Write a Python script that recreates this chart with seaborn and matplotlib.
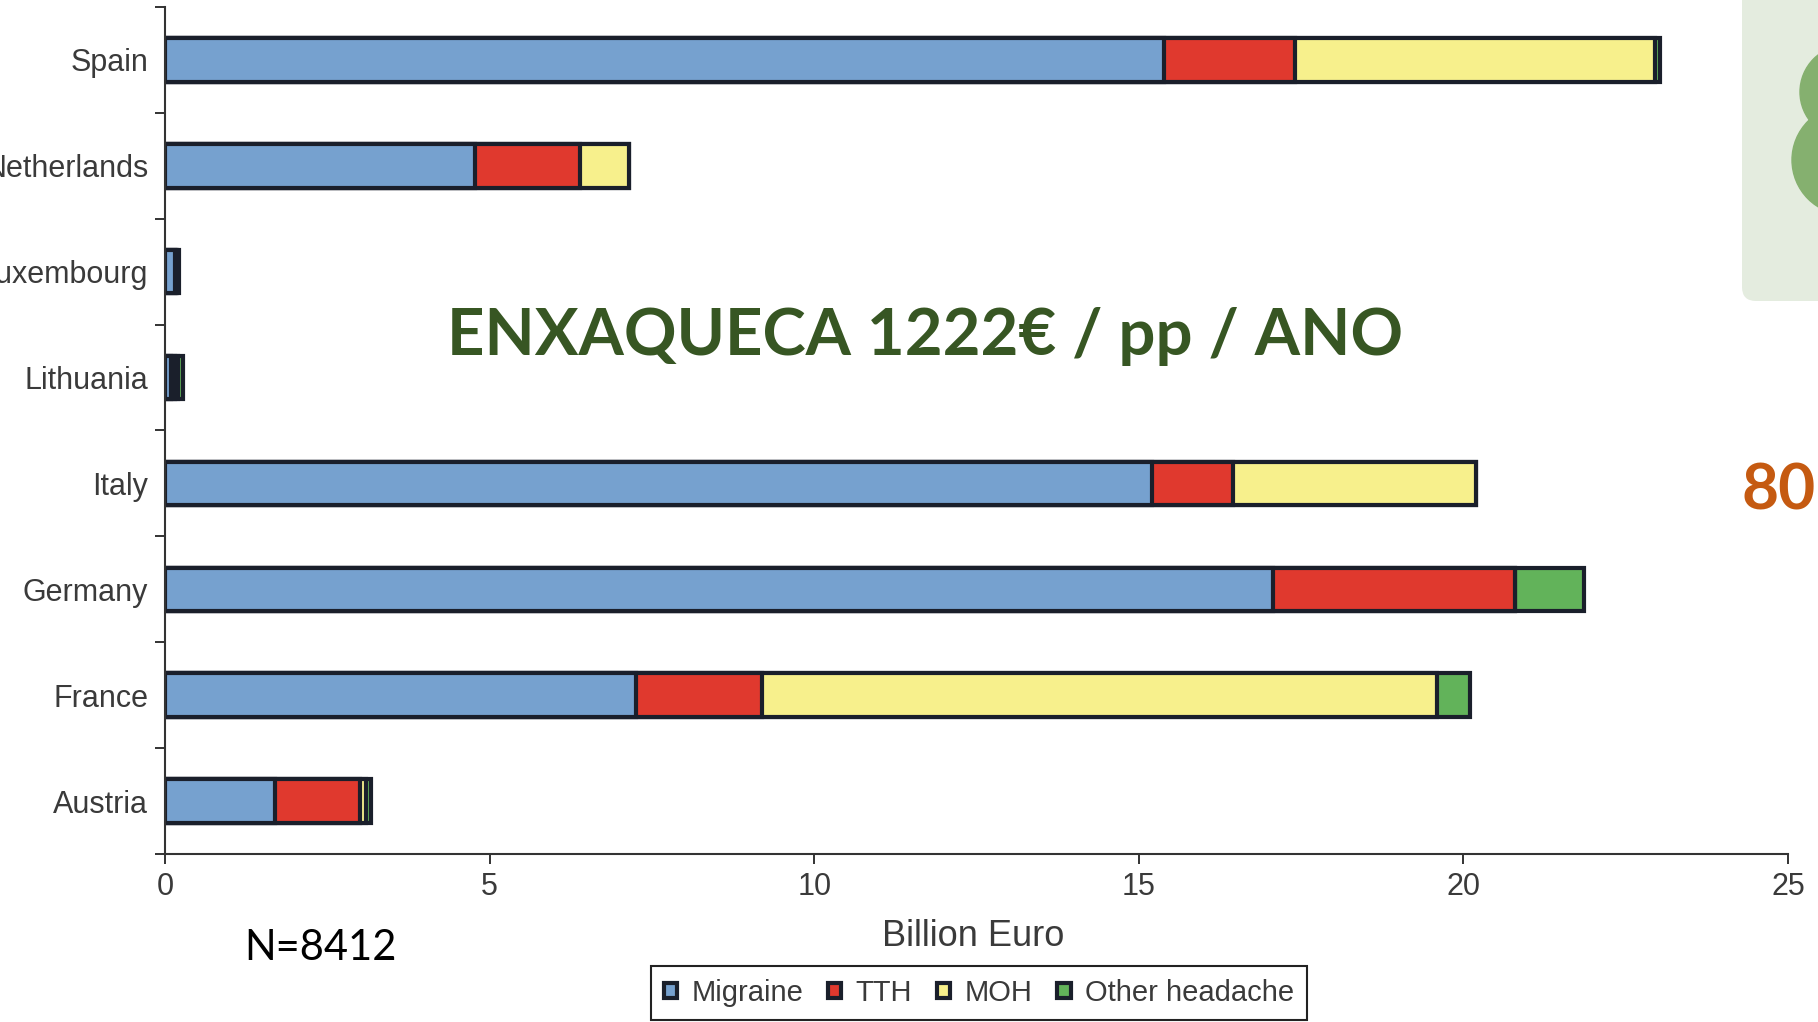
from __future__ import annotations

import matplotlib as mpl
import matplotlib.pyplot as plt
import numpy as np
import pandas as pd
import seaborn as sns
from matplotlib.patches import Circle, FancyBboxPatch, Patch


COUNTRIES = ["Spain", "Netherlands", "Luxembourg", "Lithuania", "Italy", "Germany", "France", "Austria"]
MIGRAINE = [15.39, 4.77, 0.15, 0.10, 15.20, 17.07, 7.25, 1.70]
TTH = [2.01, 1.62, 0.02, 0.05, 1.25, 3.73, 1.95, 1.30]
MOH = [5.55, 0.75, 0.02, 0.05, 3.75, 0.00, 10.40, 0.10]
OTHER = [0.08, 0.00, 0.02, 0.07, 0.00, 1.05, 0.50, 0.07]
SERIES = ["Migraine", "TTH", "MOH", "Other headache"]
X_TICKS = [0, 5, 10, 15, 20, 25]

PALETTE = {
    "Migraine": "#76A1CF",
    "TTH": "#E0392E",
    "MOH": "#F7F08C",
    "Other headache": "#62B35A",
}
EDGE = "#1A1F2B"
TEXT = "#3A3A3A"
W, H = 1818, 1022

sns.set_style("white")
mpl.rcParams.update(
    {
        "font.family": ["Liberation Sans", "DejaVu Sans"],
        "font.size": 22,
        "axes.spines.right": False,
        "axes.spines.top": False,
    }
)


def main() -> None:
    df = pd.DataFrame(
        {"country": COUNTRIES, "Migraine": MIGRAINE, "TTH": TTH, "MOH": MOH, "Other headache": OTHER}
    )
    cum = df[SERIES].cumsum(axis=1)
    cum["country"] = df["country"]

    fig = plt.figure(figsize=(W / 100, H / 100), dpi=100)
    ax = fig.add_axes([165 / W, 1 - 854 / H, (1788 - 165) / W, (854 - 7) / H])

    # stacked look: longest cumulative bar first, shorter ones on top
    for name in reversed(SERIES):
        sns.barplot(
            data=cum,
            x=name,
            y="country",
            order=COUNTRIES,
            color=PALETTE[name],
            saturation=1,
            width=0.41,
            edgecolor=EDGE,
            linewidth=3,
            ax=ax,
        )

    ax.set_xlim(0, 25)
    ax.set_ylim(7.5, -0.5)
    ax.set_xticks(X_TICKS)
    ax.set_yticks(np.arange(-0.5, 8, 1), minor=True)
    ax.tick_params(axis="y", which="major", length=0, pad=12, labelcolor=TEXT, labelsize=22)
    ax.tick_params(axis="y", which="minor", length=7, width=1.4, color="#333333", left=True)
    ax.tick_params(axis="x", length=7, width=1.4, color="#333333", bottom=True, pad=6,
                   labelcolor=TEXT, labelsize=22)
    for side in ["left", "bottom"]:
        ax.spines[side].set_linewidth(1.5)
        ax.spines[side].set_color("#333333")
        ax.spines[side].set_zorder(5)
    ax.set_ylabel("")
    ax.set_xlabel("Billion Euro", fontsize=26, color=TEXT)
    ax.xaxis.set_label_coords(973 / W, 1 - 919 / H, transform=fig.transFigure)

    handles = [Patch(facecolor=PALETTE[s], edgecolor=EDGE, linewidth=3) for s in SERIES]
    leg = fig.legend(
        handles,
        SERIES,
        loc="center",
        bbox_to_anchor=(979 / W, 1 - 993 / H),
        ncol=4,
        frameon=True,
        fancybox=False,
        edgecolor="#222222",
        framealpha=1,
        fontsize=21,
        handlelength=0.45,
        handleheight=0.45,
        handletextpad=0.5,
        columnspacing=0.85,
        borderpad=0.45,
        borderaxespad=0,
        labelcolor=TEXT,
    )
    leg.get_frame().set_linewidth(1.5)

    # slide overlay in pixel coordinates
    over = fig.add_axes([0, 0, 1, 1], facecolor="none")
    over.set_xlim(0, W)
    over.set_ylim(H, 0)
    over.axis("off")
    over.add_patch(
        FancyBboxPatch(
            (1742, -40), 140, 341,
            boxstyle="round,pad=0,rounding_size=14",
            facecolor="#E4ECDF",
            edgecolor="none",
        )
    )
    over.add_patch(Circle((1847, 92), 47, color="#85B06F"))
    over.add_patch(Circle((1847, 160), 55, color="#85B06F"))

    over.text(925, 336, "ENXAQUECA 1222€ / pp / ANO", family="Lato", weight="bold",
              fontsize=47, color="#375623", ha="center", va="center")
    over.text(320, 948, "N=8412", family="Lato", fontsize=30, color="black", ha="center", va="center")
    over.text(1741, 491, "80", family="Lato", weight="bold", fontsize=46, color="#C55A11",
              ha="left", va="center")

    fig.savefig("out.png", dpi=100, facecolor="white")


if __name__ == "__main__":
    main()
